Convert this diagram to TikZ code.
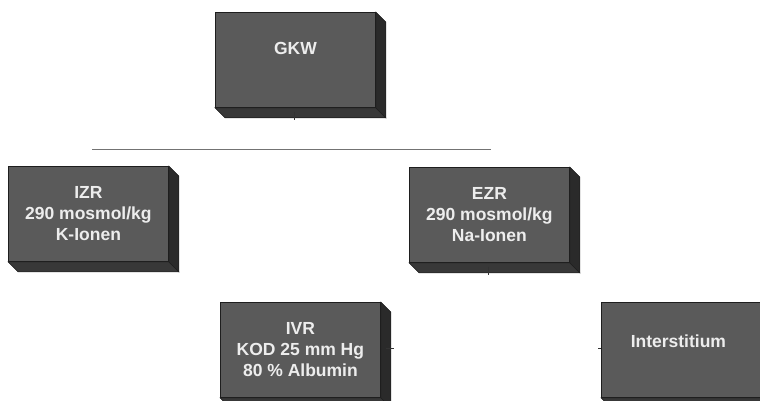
\documentclass[tikz,border=0pt]{standalone}
\usepackage{fontspec}
\setmainfont{Liberation Sans}
\usetikzlibrary{calc}
\definecolor{face}{HTML}{5A5A5A}
\definecolor{sideR}{HTML}{2A2A2A}
\definecolor{sideB}{HTML}{383838}
\definecolor{txt}{HTML}{EDEDED}
\definecolor{edge}{HTML}{1E1E1E}
\begin{document}
\begin{tikzpicture}[x=1pt,y=-1pt,
  box/.style={draw=edge, fill=face, line width=0.8pt, minimum width=160pt, minimum height=95pt,
    inner sep=0pt, anchor=north west, font=\bfseries\fontsize{17.5}{21}\selectfont, text=txt, align=center},
  boxtext/.style={font=\bfseries\fontsize{17.5}{21}\selectfont, text=txt, align=center},
  rside/.style={fill=sideR, draw=edge, line width=0.6pt},
  bside/.style={fill=sideB, draw=edge, line width=0.6pt},
  hline/.style={draw=black!55, line width=1pt},
  stub/.style={draw=black!80, line width=1pt}]
\useasboundingbox (0,0) rectangle (760,401);

\node[box] (gkw) at (215,12) {};
\node[box] (izr) at (8,166) {IZR\\290 mosmol/kg\\K-Ionen};
\node[box] (ezr) at (409,167) {EZR\\290 mosmol/kg\\Na-Ionen};
\node[box] (ivr) at (220,302) {IVR\\KOD 25 mm Hg\\80 \% Albumin};
\node[box] (int) at (601,302) {};

\foreach \n in {gkw,izr,ezr,ivr,int}{
  \filldraw[bside] (\n.south west) -- (\n.south east) -- ($(\n.south east)+(10,10)$) -- ($(\n.south west)+(10,10)$) -- cycle;
  \filldraw[rside] (\n.north east) -- ($(\n.north east)+(10,10)$) -- ($(\n.south east)+(10,10)$) -- (\n.south east) -- cycle;
}

\node[boxtext] (gkwt) at ($(gkw.center)+(0,-11)$) {GKW};
\node[boxtext] (intt) at ($(int.center)+(-3,-9)$) {Interstitium};

\coordinate (hl) at (92,149);
\coordinate (hr) at (491,149);
\draw[hline] (hl) -- (hr);

\draw[stub] ($(gkw.south)+(-1,4)$) -- ++(0,8);
\draw[stub] ($(ezr.south)+(-1,4)$) -- ++(0,8);
\draw[stub] ($(ivr.east)+(5,-1)$) -- ++(8,0);
\draw[stub] ($(int.west)+(-3,-1)$) -- ++(3,0);
\end{tikzpicture}
\end{document}
